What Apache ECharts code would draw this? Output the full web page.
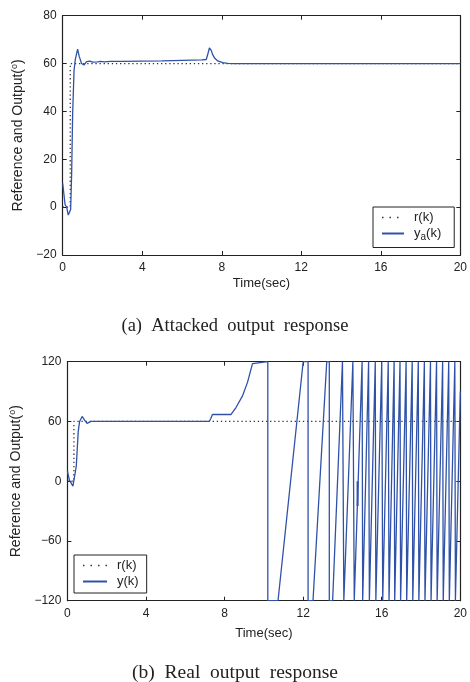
<!DOCTYPE html>
<html>
<head>
<meta charset="utf-8">
<script src="https://cdn.jsdelivr.net/npm/echarts@6/dist/echarts.min.js"></script>
<style>
html,body{margin:0;padding:0;background:#fff;}
#c{width:470px;height:682px;}
</style>
</head>
<body>
<div id="c"></div>
<script>
// ---- Data (a) Attacked output response ----
const xTicksA = [0, 4, 8, 12, 16, 20];
const yTicksA = [-20, 0, 20, 40, 60, 80];
const refA_t = [0, 0.38, 0.38, 20];
const refA_v = [0, 0, 60, 60];
const yaT = [0, 0.12, 0.2, 0.28, 0.36, 0.4, 0.45, 0.5, 0.57, 0.63, 0.75, 0.83, 0.95, 1.07, 1.2, 1.28, 1.37, 1.5, 1.6, 1.75, 1.9, 2.1, 2.4, 3, 4, 5, 6, 7.0, 7.22, 7.3, 7.38, 7.47, 7.55, 7.65, 7.8, 8.05, 8.3, 8.6, 20];
const yaV = [10, 1, 0, -3.3, -2.5, -1, 14, 39, 57, 61.5, 66, 63, 60, 59.4, 60.8, 60.4, 61, 60.6, 61, 60.7, 60.9, 60.7, 60.9, 60.9, 61, 61.1, 61.3, 61.5, 61.7, 64, 66.5, 65.5, 63.6, 62.2, 61.1, 60.4, 60.1, 60, 60];

// ---- Data (b) Real output response ----
const yTicksB = [-120, -60, 0, 60, 120];
const refB_t = [0, 0.33, 0.33, 20];
const refB_v = [0, 0, 60, 60];
const yT = [0, 0.1, 0.2, 0.28, 0.38, 0.45, 0.55, 0.62, 0.75, 0.88, 1.0, 1.1, 1.2, 7.22, 7.3, 7.38, 8.33, 8.58, 8.92, 9.17, 9.42, 9.47,
  10.2, 10.2, 10.72, 12.0, 12.25, 12.25, 12.5, 13.2, 13.33, 13.33, 13.5, 14.0, 14.07, 14.07, 14.15, 14.53, 14.6, 14.6, 14.67,
  15.0, 15.03, 15.03, 15.07, 15.33, 15.37, 15.37, 15.4, 15.67, 15.7, 15.7, 15.75, 16.0, 16.05, 16.05, 16.1, 16.33, 16.37, 16.37, 16.42,
  16.63, 16.66, 16.66, 16.7, 16.93, 16.96, 16.96, 17.0, 17.24, 17.27, 17.27, 17.31, 17.55, 17.58, 17.58, 17.62, 17.86, 17.89, 17.89, 17.93,
  18.17, 18.2, 18.2, 18.24, 18.48, 18.51, 18.51, 18.55, 18.79, 18.82, 18.82, 18.86, 19.1, 19.13, 19.13, 19.17, 19.41, 19.44, 19.44, 19.48,
  19.72, 19.75, 19.75, 19.79, 20.0];
const yV = [10, 1, 0, -5, -5, 15, 50, 60, 65, 61, 58, 58, 60, 60, 63, 67, 67, 74, 86, 99.5, 118, 120,
  120, -120, -120, 120, 120, -120, -120, 120, 120, -120, -120, 120, 120, -120, -120, 120, 120, -120, -120,
  120, 120, -120, -120, 120, 120, -120, -120, 120, 120, -120, -120, 120, 120, -120, -120, 120, 120, -120, -120,
  120, 120, -120, -120, 120, 120, -120, -120, 120, 120, -120, -120, 120, 120, -120, -120, 120, 120, -120, -120,
  120, 120, -120, -120, 120, 120, -120, -120, 120, 120, -120, -120, 120, 120, -120, -120, 120, 120, -120, -120,
  120, 120, -120, -120, 90];
const blipT = [14.77, 14.77];
const blipV = [0, -25];

const zip = (a, b) => a.map((t, i) => [t, b[i]]);

const BLUE = '#2f52a8';
const AX = '#222';
const FONT = 'Liberation Sans';
const fmt = v => (v < 0 ? '\u2212' + Math.abs(v) : '' + v);

function xAxes(gi, name, gap) {
  return [{
    type: 'value', gridIndex: gi, min: 0, max: 20, interval: 4, position: 'bottom',
    name: name, nameLocation: 'middle', nameGap: gap,
    nameTextStyle: {fontFamily: FONT, fontSize: 13, color: AX},
    axisLine: {show: true, onZero: false, lineStyle: {color: AX, width: 1.2}},
    axisTick: {show: true, inside: true, length: 4, lineStyle: {color: AX}},
    axisLabel: {fontFamily: FONT, fontSize: 12, color: AX, margin: 7, formatter: fmt},
    splitLine: {show: false}
  }, {
    type: 'value', gridIndex: gi, min: 0, max: 20, interval: 4, position: 'top',
    axisLine: {show: true, onZero: false, lineStyle: {color: AX, width: 1.2}},
    axisTick: {show: true, inside: true, length: 4, lineStyle: {color: AX}},
    axisLabel: {show: false}, splitLine: {show: false}
  }];
}
function yAxes(gi, min, max, interval, gap) {
  return [{
    type: 'value', gridIndex: gi, min: min, max: max, interval: interval, position: 'left',
    name: 'Reference and Output({sup|o})', nameLocation: 'middle', nameGap: gap,
    nameTextStyle: {fontFamily: FONT, fontSize: 14, color: AX,
      rich: {sup: {fontFamily: FONT, fontSize: 9, color: AX, padding: [0, 0, 8, 0]}}},
    axisLine: {show: true, onZero: false, lineStyle: {color: AX, width: 1.2}},
    axisTick: {show: true, inside: true, length: 4, lineStyle: {color: AX}},
    axisLabel: {fontFamily: FONT, fontSize: 12, color: AX, margin: 6, formatter: fmt},
    splitLine: {show: false}
  }, {
    type: 'value', gridIndex: gi, min: min, max: max, interval: interval, position: 'right',
    axisLine: {show: true, onZero: false, lineStyle: {color: AX, width: 1.2}},
    axisTick: {show: true, inside: true, length: 4, lineStyle: {color: AX}},
    axisLabel: {show: false}, splitLine: {show: false}
  }];
}

const refStyle = {color: '#333', width: 1.3, type: [1.3, 2.8]};
const blueStyle = {color: BLUE, width: 1.3};
const capStyle = {fontFamily: 'Liberation Serif', fontSize: 18.5, fontWeight: 'normal', color: '#222'};
const legRef = {name: 'r(k)', lineStyle: {type: [1.5, 6], width: 1.5}};

const option = {
  animation: false,
  backgroundColor: '#fff',
  title: [
    {text: '(a)  Attacked  output  response', left: 'center', top: 312, textStyle: capStyle},
    {text: '(b)  Real  output  response', left: 'center', top: 658,
     textStyle: Object.assign({}, capStyle, {fontSize: 19.5})}
  ],
  grid: [
    {left: 62.7, top: 15.7, width: 399, height: 239.3},
    {left: 65, top: 361.7, width: 400, height: 239}
  ],
  xAxis: [...xAxes(0, 'Time(sec)', 22), ...xAxes(1, 'Time(sec)', 26)],
  yAxis: [...yAxes(0, -20, 80, 20, 32), ...yAxes(1, -120, 120, 60, 42)],
  legend: [
    {data: [legRef, {name: 'y_a(k)'}], orient: 'vertical', left: 373, top: 207,
     backgroundColor: '#fff', borderColor: '#222', borderWidth: 1, borderRadius: 0,
     padding: [4, 13, 5, 8], itemGap: 3, itemWidth: 22, itemHeight: 13,
     itemStyle: {opacity: 0},
     formatter: n => n === 'y_a(k)' ? 'y{sub|a}(k)' : n,
     textStyle: {fontFamily: FONT, fontSize: 13, color: AX, padding: [0, 0, 0, 5],
       rich: {sub: {fontFamily: FONT, fontSize: 10, color: AX, padding: [8, 0, 0, 0]}}}},
    {data: [legRef, {name: 'y(k)'}], orient: 'vertical', left: 74, top: 555,
     backgroundColor: '#fff', borderColor: '#222', borderWidth: 1, borderRadius: 0,
     padding: [4, 8, 5, 8], itemGap: 3, itemWidth: 24, itemHeight: 13,
     itemStyle: {opacity: 0},
     textStyle: {fontFamily: FONT, fontSize: 13, color: AX, padding: [0, 0, 0, 5]}}
  ],
  series: [
    {name: 'r(k)', type: 'line', xAxisIndex: 0, yAxisIndex: 0, data: zip(refA_t, refA_v),
     showSymbol: false, symbol: 'none', lineStyle: refStyle, itemStyle: {color: '#333'}},
    {name: 'y_a(k)', type: 'line', xAxisIndex: 0, yAxisIndex: 0, data: zip(yaT, yaV),
     showSymbol: false, symbol: 'none', lineStyle: blueStyle, itemStyle: {color: BLUE}},
    {name: 'r(k)', type: 'line', xAxisIndex: 2, yAxisIndex: 2, data: zip(refB_t, refB_v),
     showSymbol: false, symbol: 'none', lineStyle: refStyle, itemStyle: {color: '#333'}},
    {name: 'y(k)', type: 'line', xAxisIndex: 2, yAxisIndex: 2, data: zip(yT, yV),
     showSymbol: false, symbol: 'none', lineStyle: blueStyle, itemStyle: {color: BLUE}},
    {name: 'blip', type: 'line', xAxisIndex: 2, yAxisIndex: 2, data: zip(blipT, blipV),
     showSymbol: false, symbol: 'none', lineStyle: {color: BLUE, width: 2}, itemStyle: {color: BLUE}}
  ]
};

const chart = echarts.init(document.getElementById('c'), null, {renderer: 'canvas'});
chart.setOption(option);
</script>
</body>
</html>
